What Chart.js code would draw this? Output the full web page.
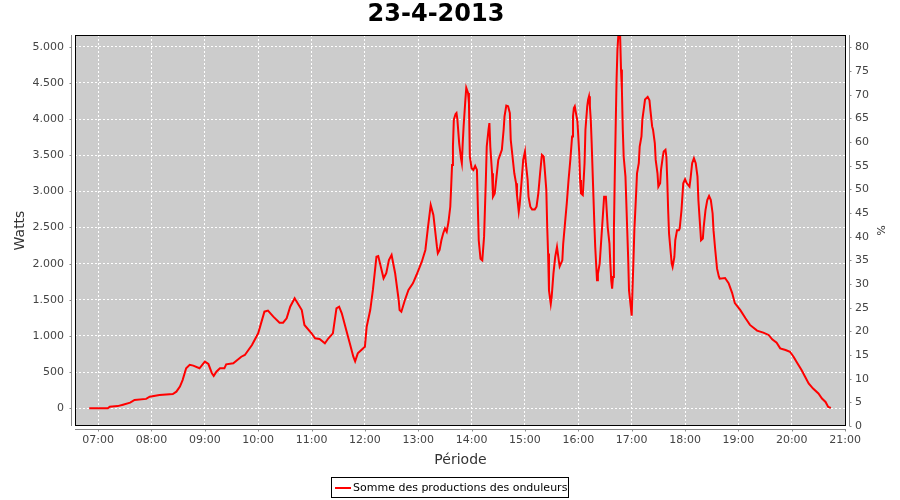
<!DOCTYPE html>
<html>
<head>
<meta charset="utf-8">
<script src="https://cdn.jsdelivr.net/npm/chart.js@4.4.1/dist/chart.umd.min.js"></script>
<style>
  html, body { margin: 0; padding: 0; background: #ffffff; }
  #wrap { width: 900px; height: 500px; position: relative; }
</style>
</head>
<body>
<div id="wrap"><canvas id="c" width="900" height="500"></canvas></div>
<script>
const chartTitle = "23-4-2013";
const seriesName = "Somme des productions des onduleurs";
const xTitle = "Période";
const yTitle = "Watts";
const y2Title = "%";

const times = [
  "06:50","07:11","07:13","07:22","07:28","07:36","07:41","07:54","07:58",
  "08:09","08:24","08:28","08:32","08:35","08:39","08:43","08:47","08:54",
  "09:00","09:04","09:08","09:10","09:13","09:17","09:22","09:24","09:32","09:41","09:45","09:53",
  "10:00","10:07","10:11","10:17","10:24","10:28","10:32","10:36","10:41","10:49","10:52",
  "11:00","11:04","11:09","11:15","11:19","11:24","11:28","11:31","11:34","11:39","11:43","11:47","11:49","11:52","11:56",
  "12:00","12:02","12:06","12:09","12:13","12:15","12:21","12:24","12:27","12:30","12:34","12:38","12:39","12:41","12:45","12:49","12:54","12:58",
  "13:04","13:08","13:11","13:14","13:17","13:21","13:22","13:24","13:26","13:28","13:30","13:32","13:34","13:36","13:37","13:38","13:39","13:40","13:42","13:43","13:44","13:46","13:48","13:49","13:50","13:51","13:53","13:54","13:56","13:57","13:58",
  "14:00","14:02","14:04","14:06","14:07","14:08","14:10","14:12","14:14","14:16","14:17","14:19","14:20","14:21","14:23","14:24","14:26","14:28","14:30","14:32","14:34","14:36","14:37","14:39","14:41","14:43","14:44","14:46","14:48","14:50","14:51","14:53","14:54","14:56","14:58",
  "15:00","15:01","15:03","15:04","15:06","15:08","15:11","15:13","15:15","15:17","15:19","15:21","15:22","15:24","15:25","15:26","15:27","15:29","15:30","15:32","15:34","15:36","15:38","15:39","15:42","15:43","15:45","15:47","15:49","15:51","15:53","15:54","15:55","15:56","15:57","15:59",
  "16:01","16:02","16:03","16:05","16:06","16:07","16:08","16:10","16:11","16:12","16:13","16:14","16:15","16:17","16:18","16:19","16:21","16:22","16:24","16:25","16:26","16:27","16:28","16:29","16:31","16:32","16:33","16:35","16:36","16:37","16:38","16:39","16:40","16:41","16:42","16:43","16:44","16:45","16:47","16:48","16:49","16:50","16:51","16:53","16:54","16:55","16:56","16:57","16:59",
  "17:00","17:01","17:02","17:03","17:05","17:06","17:08","17:09","17:11","17:12","17:14","17:15","17:18","17:20","17:21","17:23","17:24","17:26","17:27","17:29","17:30","17:32","17:33","17:35","17:36","17:38","17:39","17:40","17:41","17:42","17:44","17:45","17:46","17:48","17:49","17:51","17:53","17:54","17:56","17:58",
  "18:00","18:02","18:05","18:06","18:08","18:10","18:12","18:14","18:15","18:17","18:18","18:20","18:21","18:23","18:25","18:27","18:29","18:31","18:32","18:34","18:36","18:38","18:39","18:45","18:49","18:53","18:56",
  "19:02","19:08","19:13","19:21","19:28","19:34","19:38","19:43","19:47","19:53","19:58",
  "20:02","20:06","20:11","20:15","20:19","20:24","20:30","20:34","20:38","20:41","20:44"
];

const watts = [
  0,0,20,30,50,78,115,130,160,
  184,198,230,300,390,553,600,590,553,
  645,612,484,447,506,553,553,608,622,713,737,875,
  1037,1336,1350,1267,1184,1184,1244,1405,1521,1359,1152,
  1037,968,958,899,968,1037,1383,1405,1314,1083,899,713,650,760,806,
  852,1128,1359,1636,2096,2106,1797,1867,2051,2120,1867,1497,1359,1336,1497,1636,1728,1843,
  2027,2189,2511,2811,2673,2234,2143,2189,2324,2417,2486,2440,2579,2787,3065,3366,3620,3991,4069,4083,3991,3667,3458,3389,3667,3898,4269,4431,4361,4222,3481,
  3319,3296,3352,3296,2787,2324,2069,2046,2370,3157,3620,3852,3944,3620,3250,2926,2972,3204,3435,3505,3574,3852,4037,4185,4176,4083,3713,3481,3250,3111,2949,2718,2810,3111,3435,
  3551,3389,3157,2926,2787,2750,2750,2787,2972,3250,3505,3481,3343,3019,2509,2139,1630,1444,1537,1861,2093,2231,2046,1963,2046,2278,2556,2833,3157,3435,3759,4037,4153,4176,4106,3968,
  3528,3157,2972,2949,3157,3389,3852,4176,4269,4315,4176,3991,3667,2926,2556,2231,1769,1861,2000,2185,2370,2556,2741,2926,2926,2718,2509,2278,2000,1769,1653,1815,2463,3227,3898,4546,4963,5157,5148,4685,4407,3852,3481,3204,2833,2463,2093,1630,1398,
  1280,1676,2046,2463,2972,3250,3389,3620,3759,3991,4176,4269,4306,4259,4130,3898,3852,3667,3435,3250,3065,3111,3296,3481,3551,3574,3481,3157,2741,2417,2139,2000,1954,2093,2324,2463,2463,2486,2741,3111,
  3167,3111,3065,3157,3389,3458,3389,3204,2880,2509,2324,2347,2509,2741,2880,2935,2880,2694,2463,2185,1931,1824,1792,1801,1731,1593,1454,
  1361,1245,1153,1074,1046,1014,954,907,829,806,782,
  713,630,528,435,343,273,204,134,88,18,5
];

// tick labels / values
const xTickLabels = ["07:00","08:00","09:00","10:00","11:00","12:00","13:00","14:00",
                     "15:00","16:00","17:00","18:00","19:00","20:00","21:00"];
const yTickValues = [0,500,1000,1500,2000,2500,3000,3500,4000,4500,5000];
const y2TickValues = [0,5,10,15,20,25,30,35,40,45,50,55,60,65,70,75,80];

// axis ranges
const xMinTime = "06:34", xMaxTime = "21:01";
const yMin = -245, yMax = 5162;
const y2Min = 0, y2Max = 82.6;

function toMin(s) { const p = s.split(":"); return (+p[0]) * 60 + (+p[1]); }
function pad2(n) { return (n < 10 ? "0" : "") + n; }
function fmtThousands(v) { return String(v).replace(/\B(?=(\d{3})+(?!\d))/g, "."); }

const points = times.map((t, i) => ({ x: toMin(t), y: watts[i] }));

const FONT = "'DejaVu Sans', 'Liberation Sans', sans-serif";
const PLOT_BG = "#cccccc";
const AXIS_COL = "#888888";
const LABEL_COL = "#444444";
const TITLE_COL = "#333333";

const framePlugin = {
  id: "frame",
  beforeDraw(chart) {
    const { ctx, chartArea: a } = chart;
    ctx.save();
    ctx.fillStyle = PLOT_BG;
    ctx.fillRect(a.left, a.top, a.right - a.left, a.bottom - a.top);
    ctx.restore();
  },
  afterDatasetsDraw(chart) {
    const { ctx, chartArea: a, scales } = chart;
    ctx.save();
    ctx.strokeStyle = "#000000";
    ctx.lineWidth = 1;
    ctx.strokeRect(Math.round(a.left) + 0.5, Math.round(a.top) + 0.5,
                   Math.round(a.right - a.left) - 1, Math.round(a.bottom - a.top) - 1);
    ctx.strokeStyle = AXIS_COL;
    ctx.beginPath();
    const lx = Math.round(a.left) - 4 + 0.5;
    ctx.moveTo(lx, a.top); ctx.lineTo(lx, a.bottom);
    scales.y.ticks.forEach(t => {
      const py = Math.round(scales.y.getPixelForValue(t.value)) + 0.5;
      ctx.moveTo(lx - 2, py); ctx.lineTo(lx, py);
    });
    const rx = Math.round(a.right) + 4 - 0.5;
    ctx.moveTo(rx, a.top); ctx.lineTo(rx, a.bottom);
    scales.y2.ticks.forEach(t => {
      const py = Math.round(scales.y2.getPixelForValue(t.value)) + 0.5;
      ctx.moveTo(rx, py); ctx.lineTo(rx + 2, py);
    });
    const by = Math.round(a.bottom) + 4 - 0.5;
    ctx.moveTo(a.left, by); ctx.lineTo(a.right, by);
    scales.x.ticks.forEach(t => {
      const px = Math.round(scales.x.getPixelForValue(t.value)) + 0.5;
      ctx.moveTo(px, by); ctx.lineTo(px, by + 2);
    });
    ctx.stroke();
    ctx.restore();
  },
  afterDraw(chart) {
    const { ctx } = chart;
    ctx.save();
    // chart title
    ctx.font = "bold 24px " + FONT;
    ctx.fillStyle = "#000000";
    ctx.textAlign = "center";
    ctx.textBaseline = "middle";
    ctx.fillText(chartTitle, 436, 15);
    // boxed legend
    ctx.font = "11px " + FONT;
    const tw = ctx.measureText(seriesName).width;
    const boxW = Math.round(tw + 24), boxH = 21;
    const bx = Math.round((chart.width - boxW) / 2), byy = 477;
    ctx.fillStyle = "#ffffff";
    ctx.fillRect(bx, byy, boxW, boxH);
    ctx.strokeStyle = "#000000";
    ctx.lineWidth = 1;
    ctx.strokeRect(bx + 0.5, byy + 0.5, boxW - 1, boxH - 1);
    ctx.strokeStyle = "#ff0000";
    ctx.lineWidth = 2;
    ctx.beginPath();
    ctx.moveTo(bx + 4, byy + 11); ctx.lineTo(bx + 20, byy + 11);
    ctx.stroke();
    ctx.fillStyle = "#000000";
    ctx.textAlign = "left";
    ctx.fillText(seriesName, bx + 22, byy + 11);
    ctx.restore();
  }
};

new Chart(document.getElementById("c"), {
  type: "line",
  data: {
    datasets: [{
      label: seriesName,
      data: points,
      borderColor: "#ff0000",
      backgroundColor: "#ff0000",
      borderWidth: 2,
      pointRadius: 0,
      tension: 0,
      fill: false,
      yAxisID: "y"
    }]
  },
  options: {
    responsive: false,
    animation: false,
    devicePixelRatio: 1,
    layout: { padding: { top: 35, left: 0, right: 0, bottom: 0 } },
    plugins: {
      legend: { display: false },
      tooltip: { enabled: false },
      title: { display: false }
    },
    scales: {
      x: {
        type: "linear",
        position: "bottom",
        min: toMin(xMinTime),
        max: toMin(xMaxTime),
        afterBuildTicks: s => { s.ticks = xTickLabels.map(l => ({ value: toMin(l) })); },
        afterFit: s => { s.height = 74; },
        ticks: {
          autoSkip: false,
          maxRotation: 0,
          padding: 8,
          color: LABEL_COL,
          font: { family: FONT, size: 11 },
          callback: v => pad2(Math.floor(v / 60)) + ":" + pad2(v % 60)
        },
        grid: { color: "#ffffff", lineWidth: 1, drawTicks: false },
        border: { display: false, dash: [2, 2] },
        title: {
          display: true, text: xTitle, color: TITLE_COL,
          font: { family: FONT, size: 14, lineHeight: 1.2 },
          padding: { top: 0, bottom: 31.6 }
        }
      },
      y: {
        type: "linear",
        position: "left",
        min: yMin,
        max: yMax,
        afterBuildTicks: s => { s.ticks = yTickValues.map(v => ({ value: v })); },
        afterFit: s => { s.width = 75; },
        ticks: {
          padding: 11,
          color: LABEL_COL,
          font: { family: FONT, size: 11 },
          callback: v => fmtThousands(v)
        },
        grid: { color: "#ffffff", lineWidth: 1, drawTicks: false },
        border: { display: false, dash: [2, 2] },
        title: {
          display: true, text: yTitle, color: TITLE_COL,
          font: { family: FONT, size: 14, lineHeight: 1.2 },
          padding: { top: 12, bottom: 0 }
        }
      },
      y2: {
        type: "linear",
        position: "right",
        min: y2Min,
        max: y2Max,
        afterBuildTicks: s => { s.ticks = y2TickValues.map(v => ({ value: v })); },
        afterFit: s => { s.width = 54; },
        ticks: {
          padding: 9,
          color: LABEL_COL,
          font: { family: FONT, size: 11 }
        },
        grid: { display: false, drawTicks: false },
        border: { display: false },
        title: {
          display: true, text: y2Title, color: TITLE_COL,
          font: { family: FONT, size: 11, lineHeight: 1.2 },
          padding: { top: 13.4, bottom: 0 }
        }
      }
    }
  },
  plugins: [framePlugin]
});
</script>
</body>
</html>
